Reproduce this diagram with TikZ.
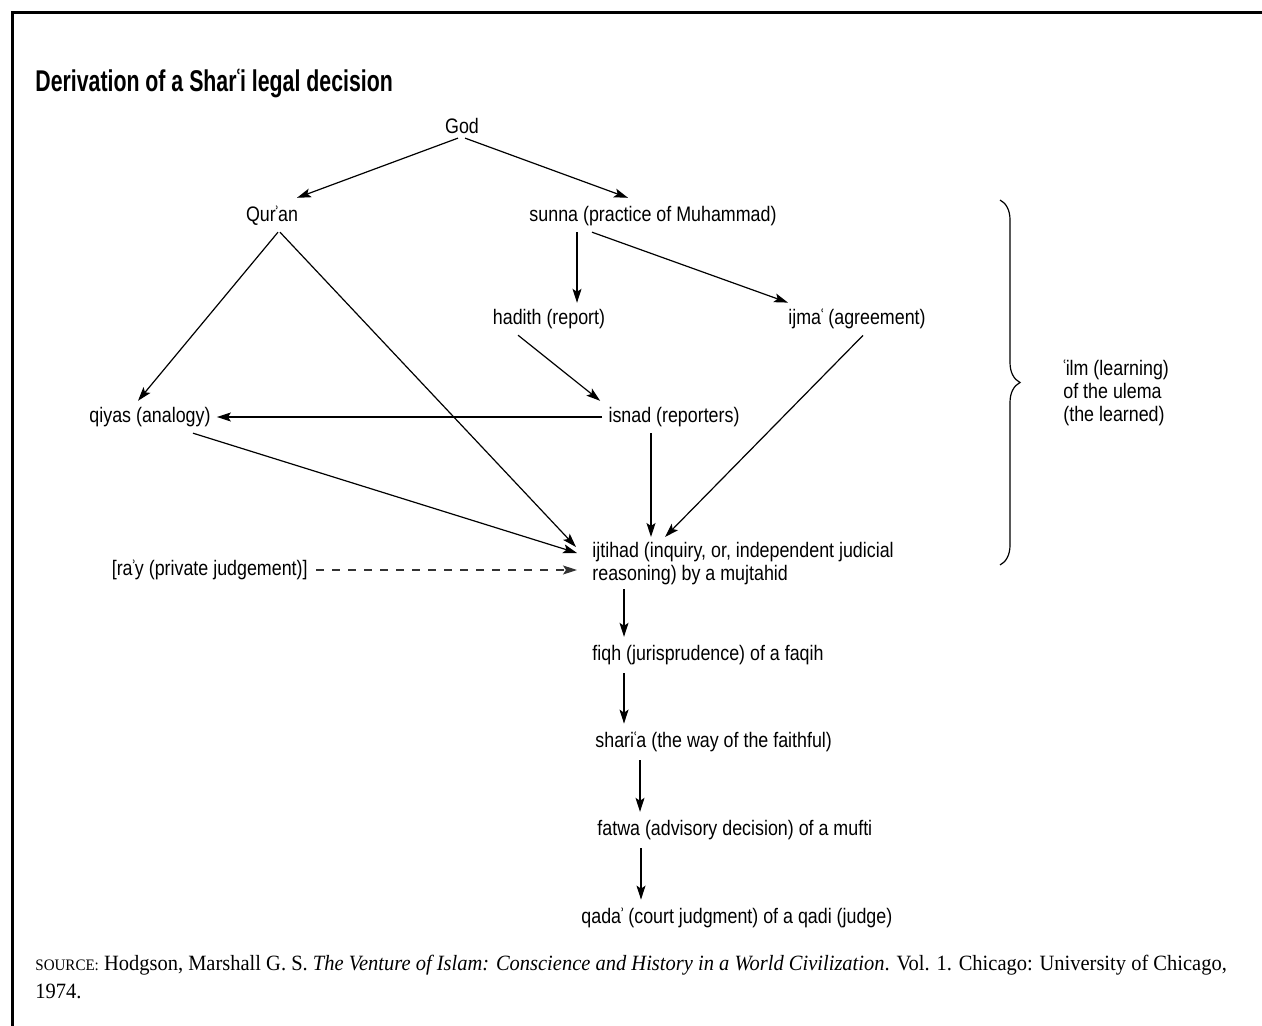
\documentclass[tikz,border=0pt]{standalone}
\usepackage{fontspec}
\setmainfont{Liberation Sans}[FakeStretch=0.85]
\newfontfamily\headfont{Liberation Sans}[FakeStretch=0.71]
\newfontfamily\srcfont{Liberation Serif}[FakeStretch=0.94]
\usetikzlibrary{arrows.meta,decorations.pathreplacing}
\newcommand{\ayn}{\kern-0.9pt ʿ\kern-0.9pt}
\newcommand{\hmz}{\kern-0.9pt ʾ\kern-0.9pt}
\tikzset{
  term/.style={inner sep=0pt,font=\fontsize{10.5}{11.5}\selectfont},
  lterm/.style={term,anchor=west},
  link/.style={-{Stealth[length=7pt,width=4.5pt,inset=1.5pt]},line width=0.6pt},
  dlink/.style={link,dash pattern=on 4pt off 4pt,draw=black!80},
}
\begin{document}
\begin{tikzpicture}[x=0.5pt,y=-0.5pt]
\useasboundingbox (0,0) rectangle (1262,1026);
% frame, open to the right and below
\draw[line width=1.5pt] (12,1030) -- (12,13) -- (1266,13);
\node[anchor=base west,inner sep=0pt,font=\headfont\bfseries\fontsize{15}{17}\selectfont]
  (title) at (35,92) {Derivation of a Shar\ayn i legal decision};
% sources
\node[term] (god) at (462,126) {God};
\node[term] (quran) at (272,216) {Qur\hmz an};
\node[term] (sunna) at (653,216) {sunna (practice of Muhammad)};
\node[term] (hadith) at (549,319) {hadith (report)};
\node[term] (ijma) at (857,319) {ijma\ayn{} (agreement)};
\node[term] (qiyas) at (150,417) {qiyas (analogy)};
\node[term] (isnad) at (674,417) {isnad (reporters)};
% the mujtahid and what follows from him
\node[term,anchor=north west,align=left] (ijtihad) at (592,542)
  {ijtihad (inquiry, or, independent judicial\\reasoning) by a mujtahid};
\node[term,anchor=east] (ray) at (308,570) {[ra\hmz y (private judgement)]};
\node[lterm] (fiqh) at (592,655) {fiqh (jurisprudence) of a faqih};
\node[lterm] (sharia) at (595,742) {shari\ayn a (the way of the faithful)};
\node[lterm] (fatwa) at (597,830) {fatwa (advisory decision) of a mufti};
\node[lterm] (qada) at (581,918) {qada\hmz{} (court judgment) of a qadi (judge)};
% the learned
\draw[line width=0.6pt,decorate,decoration={brace,amplitude=10pt}] (1000,200) -- (1000,565);
\node[term,anchor=west,align=left] (ilm) at (1063,393) {\ayn ilm (learning)\\of the ulema\\(the learned)};
% arrows
\draw[link] ([shift={(-4,4)}]god.south) -- ([shift={(25,-8)}]quran.north);
\draw[link] ([shift={(3,4)}]god.south) -- ([shift={(-25,-8)}]sunna.north);
\draw[link] ([shift={(6,6)}]quran.south) -- ([shift={(-12,-6)}]qiyas.north);
\draw[link] ([shift={(8,6)}]quran.south) -- ([shift={(-16,5)}]ijtihad.north west);
\draw[link] ([shift={(-76,6)}]sunna.south) -- ([shift={(28,-6)}]hadith.north);
\draw[link] ([shift={(-61,6)}]sunna.south) -- ([shift={(0,-6)}]ijma.north west);
\draw[link] ([shift={(-31,6)}]hadith.south) -- ([shift={(-8,-6)}]isnad.north west);
\draw[link] ([shift={(-6,0)}]isnad.west) -- ([shift={(6,0)}]qiyas.east);
\draw[link] ([shift={(-23,6)}]isnad.south) -- ([shift={(59,-5)}]ijtihad.north west);
\draw[link] ([shift={(6,6)}]ijma.south) -- ([shift={(73,-5)}]ijtihad.north west);
\draw[link] ([shift={(43,6)}]qiyas.south) -- ([shift={(-15,11)}]ijtihad.north west);
\draw[dlink] ([shift={(8,0)}]ray.east) -- ([shift={(-15,28)}]ijtihad.north west);
\draw[link] ([shift={(32,4)}]ijtihad.south west) -- ([shift={(32,-8)}]fiqh.north west);
\draw[link] ([shift={(32,8)}]fiqh.south west) -- ([shift={(29,-8)}]sharia.north west);
\draw[link] ([shift={(45,8)}]sharia.south west) -- ([shift={(43,-8)}]fatwa.north west);
\draw[link] ([shift={(44,8)}]fatwa.south west) -- ([shift={(60,-8)}]qada.north west);
% source line
\node[anchor=north west,inner sep=0pt,align=left,font=\srcfont\fontsize{10.9}{14}\selectfont]
  (source) at (35,955) {{\fontsize{8}{14}\selectfont SOURCE:} Hodgson, Marshall G. S. \textit{The Venture of Islam: Conscience and History in a World Civilization}. Vol. 1. Chicago: University of Chicago,\\1974.};
\end{tikzpicture}
\end{document}
